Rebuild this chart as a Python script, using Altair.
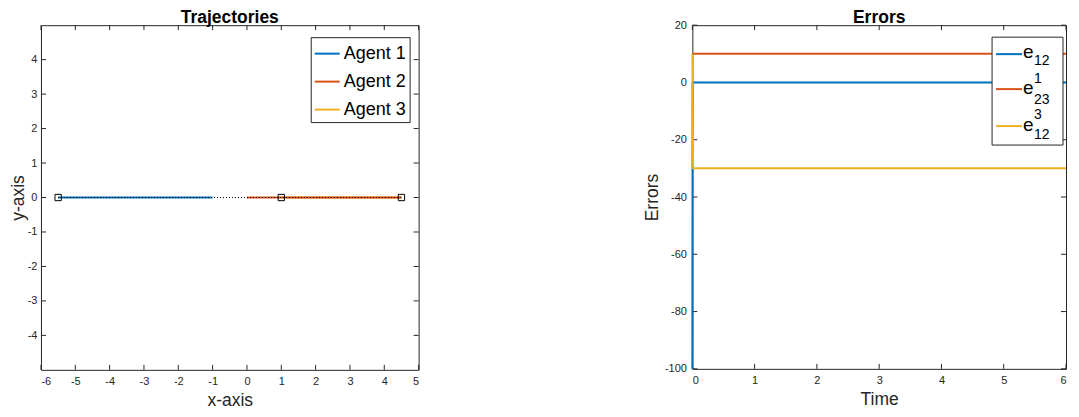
import altair as alt
import pandas as pd

# ---------------- data ----------------
agents = ["Agent 1", "Agent 2", "Agent 3"]
agent_colors = ["#0072BD", "#D95319", "#EDB120"]
agent1_x = [-5.5, -1.0]
agent2_x = [0.0, 4.5]
agent3_x = [1.0, 4.5]
path_x = [-5.5, 4.5]
marker_x = [-5.5, 1.0, 4.5]

t_e12 = [0.0, 0.004, 6.0]
v_e12 = [-100.0, 0.0, 0.0]
t_e23_1 = [0.0, 6.0]
v_e23_1 = [10.0, 10.0]
t_e12_3 = [0.0, 0.012, 6.0]
v_e12_3 = [10.0, -30.0, -30.0]

x_ticks_left = [-6, -5, -4, -3, -2, -1, 0, 1, 2, 3, 4, 5]
y_ticks_left = [-4, -3, -2, -1, 0, 1, 2, 3, 4]
x_ticks_right = [0, 1, 2, 3, 4, 5, 6]
y_ticks_right = [-100, -80, -60, -40, -20, 0, 20]

FONT = "Liberation Sans"
AX = "#262626"
LBL = "'' + datum.value"

LW, LH = 378, 345
RW, RH = 374, 344

one = pd.DataFrame({"a": [0]})


def title_mark(s, w):
    return alt.Chart(one).mark_text(
        text=s, font=FONT, fontSize=17.5, fontWeight="bold", color="black",
        align="center", baseline="alphabetic",
    ).encode(x=alt.value(w / 2), y=alt.value(-2))


def inner_ticks(xt, yt, xscale, yscale, xaxis, yaxis, w, h, L=5):
    dx = pd.DataFrame({"x": xt})
    dy = pd.DataFrame({"y": yt})
    xb = alt.Chart(dx).mark_rule(color=AX, strokeWidth=1).encode(
        x=alt.X("x:Q", scale=xscale, axis=xaxis), y=alt.value(h), y2=alt.value(h - L))
    xt_ = alt.Chart(dx).mark_rule(color=AX, strokeWidth=1).encode(
        x=alt.X("x:Q", scale=xscale, axis=xaxis), y=alt.value(0), y2=alt.value(L))
    yl = alt.Chart(dy).mark_rule(color=AX, strokeWidth=1).encode(
        y=alt.Y("y:Q", scale=yscale, axis=yaxis), x=alt.value(0), x2=alt.value(L))
    yr = alt.Chart(dy).mark_rule(color=AX, strokeWidth=1).encode(
        y=alt.Y("y:Q", scale=yscale, axis=yaxis), x=alt.value(w), x2=alt.value(w - L))
    return [xb, xt_, yl, yr]


# ---------------- left chart ----------------
xs_l = alt.Scale(domain=[-6, 5], nice=False, zero=False)
ys_l = alt.Scale(domain=[-5, 5], nice=False, zero=False)
cs = alt.Scale(domain=agents, range=agent_colors)

xax_l = alt.Axis(values=x_ticks_left, title="x-axis", ticks=False, labelExpr=LBL,
                 labelOverlap=False, labelPadding=6, titlePadding=5,
                 grid=False, domain=False)
yax_l = alt.Axis(values=y_ticks_left, title="y-axis", ticks=False, labelExpr=LBL,
                 labelOverlap=False, labelPadding=4, titlePadding=0,
                 grid=False, domain=False)

leg = alt.Legend(orient="none", legendX=LW - 108, legendY=12, title=None,
                 strokeColor="#262626", fillColor="white", padding=3,
                 labelFontSize=18, labelFont=FONT, labelColor="black",
                 symbolType="stroke", symbolSize=625, symbolStrokeWidth=2,
                 rowPadding=5, labelOffset=3)


def agent_df(name, xs):
    return pd.DataFrame({"x": xs, "y": [0.0] * len(xs), "agent": [name] * len(xs)})


def agent_layer(name, xs):
    return alt.Chart(agent_df(name, xs)).mark_line(strokeWidth=2).encode(
        x=alt.X("x:Q", scale=xs_l, axis=xax_l),
        y=alt.Y("y:Q", scale=ys_l, axis=yax_l),
        color=alt.Color("agent:N", scale=cs, legend=leg),
    )


l3 = agent_layer("Agent 3", agent3_x)
l1 = agent_layer("Agent 1", agent1_x)
l2 = agent_layer("Agent 2", agent2_x)

path = alt.Chart(pd.DataFrame({"x": path_x, "y": [0.0] * len(path_x)})).mark_line(
    color="black", strokeWidth=1, strokeDash=[1, 2]).encode(
    x=alt.X("x:Q", scale=xs_l, axis=xax_l), y=alt.Y("y:Q", scale=ys_l, axis=yax_l))
markers = alt.Chart(pd.DataFrame({"x": marker_x, "y": [0.0] * len(marker_x)})).mark_point(
    shape="square", size=40, filled=False, color="black", strokeWidth=1, opacity=1
).encode(x=alt.X("x:Q", scale=xs_l, axis=xax_l), y=alt.Y("y:Q", scale=ys_l, axis=yax_l))

left = alt.layer(
    *inner_ticks(x_ticks_left, y_ticks_left, xs_l, ys_l, xax_l, yax_l, LW, LH),
    l3, l1, l2, path, markers, title_mark("Trajectories", LW),
).properties(width=LW, height=LH)

# ---------------- right chart ----------------
xs_r = alt.Scale(domain=[0, 6], nice=False, zero=False)
ys_r = alt.Scale(domain=[-100, 20], nice=False, zero=False)

xax_r = alt.Axis(values=x_ticks_right, title="Time", ticks=False, labelExpr=LBL,
                 labelOverlap=False, labelPadding=6, titlePadding=5,
                 grid=False, domain=False)
yax_r = alt.Axis(values=y_ticks_right, title="Errors", ticks=False, labelExpr=LBL,
                 labelOverlap=False, labelPadding=6, titlePadding=3,
                 grid=False, domain=False)


def err_layer(ts, vs, col):
    return alt.Chart(pd.DataFrame({"x": ts, "y": vs})).mark_line(
        strokeWidth=2, color=col).encode(
        x=alt.X("x:Q", scale=xs_r, axis=xax_r), y=alt.Y("y:Q", scale=ys_r, axis=yax_r))


e1 = err_layer(t_e12, v_e12, agent_colors[0])
e2 = err_layer(t_e23_1, v_e23_1, agent_colors[1])
e3 = err_layer(t_e12_3, v_e12_3, agent_colors[2])

bx0 = RW - 74
box = alt.Chart(one).mark_rect(fill="white", stroke=AX, strokeWidth=1).encode(
    x=alt.value(bx0), x2=alt.value(RW - 3), y=alt.value(12), y2=alt.value(120))

leg_line_y = [29, 64, 101]
leg_e_y = [27, 63, 100]
leg_sub_y = [36, 75, 110]
leg_sup_y = [None, 54, 90]
sub_labels = ["12", "23", "12"]
sup_labels = ["", "1", "3"]


def txt(s, x, y, size):
    return alt.Chart(one).mark_text(
        text=s, font=FONT, fontSize=size, align="left", baseline="middle", color="black"
    ).encode(x=alt.value(x), y=alt.value(y))


leg_layers = [box]
for i in range(3):
    leg_layers.append(alt.Chart(one).mark_rule(color=agent_colors[i], strokeWidth=2).encode(
        x=alt.value(bx0 + 4), x2=alt.value(bx0 + 30), y=alt.value(leg_line_y[i])))
    leg_layers.append(txt("e", bx0 + 31, leg_e_y[i], 19))
    leg_layers.append(txt(sub_labels[i], bx0 + 42, leg_sub_y[i], 14))
    if sup_labels[i]:
        leg_layers.append(txt(sup_labels[i], bx0 + 42, leg_sup_y[i], 14))

right = alt.layer(
    *inner_ticks(x_ticks_right, y_ticks_right, xs_r, ys_r, xax_r, yax_r, RW, RH),
    e1, e2, e3, *leg_layers, title_mark("Errors", RW),
).properties(width=RW, height=RH)

chart = alt.hconcat(left, right, spacing=223).configure_view(
    stroke=AX, strokeWidth=1
).configure_axis(
    labelFont=FONT, labelFontSize=11, labelColor=AX,
    titleFont=FONT, titleFontSize=17.5, titleColor=AX, titleFontWeight="normal",
).properties(padding={"left": 0, "top": 0, "right": 0, "bottom": 0}, background="white")

chart.save("out.html", embed_options={"renderer": "svg", "actions": False})
